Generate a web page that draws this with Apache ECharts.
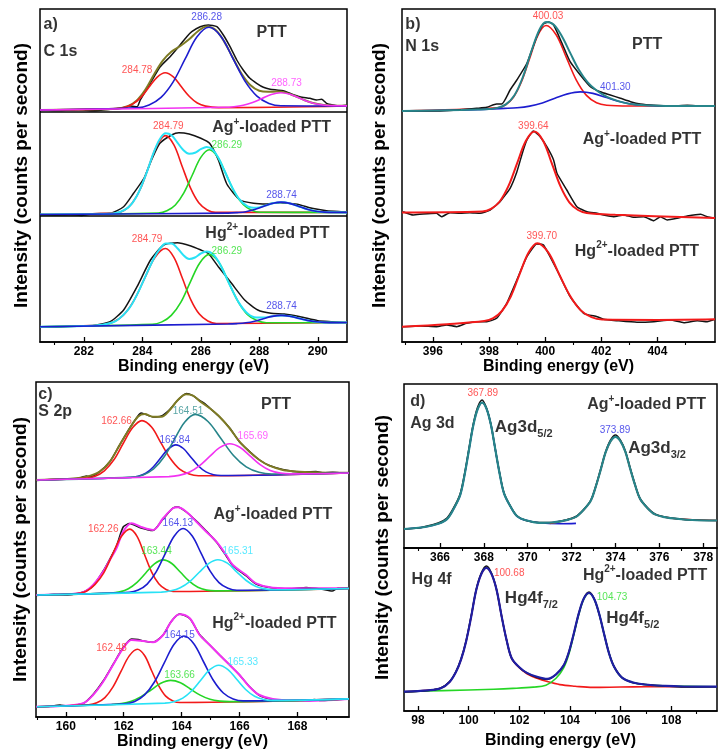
<!DOCTYPE html>
<html><head><meta charset="utf-8">
<script src="https://cdn.jsdelivr.net/npm/echarts@6/dist/echarts.min.js"></script>
<style>html,body{margin:0;padding:0;background:#fff}#c{width:724px;height:755px}</style>
</head><body><div id="c"></div>
<script>
// ---------- axis ranges & ticks ----------
const xRanges = [[280.5,291],[394.9,406.05],[158.97,169.78],[364.36,378.63],[97.45,109.8]];
const yTops = [333,333,335,164,163];
const majorTicks = [[282,284,286,288,290],[396,398,400,402,404],[160,162,164,166,168],[366,368,370,372,374,376,378],[98,100,102,104,106,108]];
const minorTicks = [[281,283,285,287,289],[395,397,399,401,403,405],[159,161,163,165,167,169],[365,367,369,371,373,375,377],[99,101,103,105,107,109]];
const separatorsA = [230.5,126];

// ---------- panel a : C 1s ----------
const a1Raw = [[280.52,232],[281.2,231.5],[281.8,232.3],[282.33,231.3],[282.9,232.7],[283.36,234.3],[283.59,236],[283.82,235.3],[283.93,242],[284.27,258.7],[284.61,275.3],[284.95,285.3],[285.29,297],[285.52,305.3],[285.69,310.3],[285.98,315.3],[286.26,317],[286.55,315.3],[286.77,307],[287,295.3],[287.23,282],[287.45,272],[287.68,263.7],[287.91,258.7],[288.14,254.7],[288.37,252.7],[288.59,252],[288.82,251.3],[289.05,248.7],[289.39,245.3],[289.73,243.7],[289.96,242],[290.13,242.7],[290.3,238.7],[290.53,237],[290.75,236],[290.98,236.7]];
const a1Fit = [[280.5,232],[282,232.6],[283,233],[283.5,235.8],[283.8,241.3],[284.1,252.2],[284.4,267.5],[284.7,281.3],[285,290.4],[285.3,296],[285.6,302.7],[285.9,310.8],[286.2,315.6],[286.5,312.2],[286.8,300.4],[287.1,283.9],[287.4,268],[287.7,256.7],[288,251.2],[288.3,250.2],[288.6,250.4],[288.9,249.4],[289.2,246.2],[289.5,242.4],[289.8,239.2],[290.2,236.9],[290.6,236.2],[291,236.2]];
const a1Red = [[280.5,232],[283.1,233.4],[283.41,234.8],[283.68,238.1],[283.96,244.9],[284.23,255],[284.51,264.9],[284.78,269.2],[285.06,265.1],[285.33,255.4],[285.61,245.5],[285.88,239],[286.16,235.9],[286.6,234.4],[291,236]];
const a1Blue = [[280.5,232],[283.82,234.2],[284.23,237],[284.64,244.6],[285.05,259.9],[285.46,282.8],[285.87,305.2],[286.28,314.7],[286.69,305.5],[287.1,283.4],[287.51,260.9],[287.92,245.9],[288.33,238.6],[288.74,236.2],[291,236]];
const a1Mag = [[280.5,232],[286.81,234.7],[287.13,235.3],[287.45,236.7],[287.77,239.4],[288.09,243.5],[288.41,247.6],[288.73,249.3],[289.05,247.8],[289.37,244.1],[289.69,240.2],[290.01,237.7],[290.33,236.5],[290.65,236.3],[291,236.1]];

const a2Raw = [[280.5,127.5],[281,126.8],[281.5,127.3],[281.9,126.5],[282.3,128.3],[282.9,128.7],[283.36,135.3],[283.7,148.7],[284.06,164],[284.33,183],[284.6,198.7],[285,207],[285.25,209.3],[285.6,208],[286,203.7],[286.3,198.7],[286.6,182],[286.89,158],[287.34,142],[287.8,138.7],[288.25,138],[288.7,139.3],[289.3,137.7],[289.8,133.7],[290.3,131.3],[290.8,130.3],[291,130]];
const a2Fit = [[280.5,127.5],[282,127.8],[283,128.6],[283.5,134.1],[283.8,145.4],[284.1,165.7],[284.4,190.3],[284.6,203],[284.8,208.7],[285,206.7],[285.2,199.4],[285.4,192],[285.6,188.3],[285.8,189.2],[286,192.8],[286.2,195],[286.4,192.6],[286.6,184.2],[286.8,172],[287,159],[287.3,143.4],[287.6,135.7],[287.9,134.3],[288.2,136.4],[288.5,139],[288.8,139.8],[289.1,138.1],[289.4,135.1],[289.7,132.3],[290,130.6],[290.4,129.7],[291,129.6]];
const a2Red = [[280.5,127.5],[283.08,128.9],[283.37,131.5],[283.65,138.7],[283.94,153.5],[284.22,175.5],[284.51,197.1],[284.79,206.4],[285.08,197.2],[285.36,175.8],[285.65,153.8],[285.93,139.2],[286.22,132],[286.5,129.6],[291,129.6]];
const a2Green = [[280.5,127.5],[284.55,129],[284.84,131.2],[285.13,137],[285.42,149.1],[285.71,167],[286,184.6],[286.29,192.2],[286.58,184.7],[286.87,167.3],[287.16,149.4],[287.45,137.5],[287.74,131.7],[288.03,129.7],[291,129.6]];
const a2Blue = [[280.5,127.5],[286.94,128.9],[287.24,129.4],[287.54,130.3],[287.84,132.5],[288.14,135.6],[288.44,138.5],[288.74,139.9],[289.04,138.6],[289.34,135.7],[289.64,132.8],[289.94,130.8],[290.24,129.9],[290.54,129.6],[291,129.6]];

const a3Raw = [[280.5,15.3],[281,14.8],[281.5,15.5],[282,16],[282.3,16.3],[282.9,20.3],[283.36,32],[283.82,55.3],[284.28,82],[284.73,97],[285.2,99.3],[285.66,96],[286,92],[286.25,88.7],[286.6,75.3],[287.05,58.7],[287.5,42],[287.95,32],[288.4,28.7],[288.85,28],[289.4,25.3],[290,21.3],[290.5,20.3],[291,19.3]];
const a3Fit = [[280.5,15.3],[282,15.9],[283,19.7],[283.5,31.8],[283.8,46.3],[284.1,65.2],[284.4,84],[284.6,93.2],[284.8,98.6],[285,98.6],[285.2,93.8],[285.4,87],[285.6,83],[285.8,84.5],[286,88.5],[286.2,90.5],[286.4,88.3],[286.6,80.8],[286.8,69.3],[287,56.5],[287.3,39.4],[287.6,28.5],[287.9,24.5],[288.2,24.6],[288.5,26.1],[288.8,26.6],[289.1,25.4],[289.4,23.3],[289.7,21.2],[290,20],[290.4,19.5],[291,19.5]];
const a3Red = [[280.5,15.3],[282.63,17],[282.99,19.7],[283.35,26.8],[283.71,41.4],[284.07,63.1],[284.43,84.4],[284.79,93.5],[285.08,84.6],[285.37,63.7],[285.66,42.2],[285.95,27.9],[286.24,21],[286.53,18.5],[291,19.5]];
const a3Green = [[280.5,15.3],[284.34,17.6],[284.67,20.1],[284.99,26.6],[285.32,39.9],[285.64,59.9],[285.97,79.3],[286.29,87.6],[286.62,79.6],[286.94,60.4],[287.27,40.7],[287.59,27.6],[287.92,21.4],[288.24,19.2],[291,19.5]];
const a3Blue = [[280.5,15.3],[286.94,18],[287.24,18.4],[287.54,19.2],[287.84,20.8],[288.14,23.3],[288.44,25.6],[288.74,26.6],[289.04,25.8],[289.34,23.7],[289.64,21.6],[289.94,20.2],[290.24,19.6],[290.54,19.4],[291,19.5]];

// ---------- panel b : N 1s ----------
const b1Raw = [[394.94,231],[395.65,231],[396.13,231],[396.85,232],[397.56,233.7],[397.92,234.7],[398.27,238],[398.45,238],[398.75,252],[398.99,262],[399.35,278.7],[399.7,305.3],[399.94,318],[400.12,320],[400.3,317],[400.6,298.7],[400.89,280.3],[401.25,267],[401.61,255.3],[401.96,250.3],[402.32,247],[402.68,243.7],[403.04,240.3],[403.39,238],[403.87,236.7],[404.46,236],[405.06,236.7],[405.65,236],[406.05,236]];
const b1Fit = [[394.9,231],[396,231.5],[397,232],[397.6,232.5],[398,233],[398.3,234.1],[398.6,237.6],[398.9,246.5],[399.2,264.5],[399.5,290],[399.8,312.5],[400.03,320],[400.3,317.5],[400.6,305.5],[400.9,288.6],[401.2,272.2],[401.5,260.1],[401.8,252.2],[402.1,246.7],[402.4,242.9],[402.8,239.4],[403.2,237.4],[403.7,236.4],[404.3,236],[405,236],[406.05,236]];
const b1Red = [[394.9,231],[398.29,234.1],[398.58,237],[398.87,244.8],[399.16,260.5],[399.45,283.8],[399.74,306.7],[400.03,316.5],[400.39,307.2],[400.75,284.8],[401.11,261.9],[401.47,246.6],[401.83,239.3],[402.19,236.8],[403,236],[406.05,236]];
const b1Blue = [[394.9,231],[397,232],[398.55,233.6],[399,234.2],[399.45,235.9],[399.9,239.1],[400.35,243.7],[400.8,248.1],[401.25,250.1],[401.7,248.6],[402.15,244.7],[402.6,240.7],[403.05,238],[403.5,236.7],[403.95,236.2],[406.05,236]];
const b2Raw = [[394.94,130.3],[395.3,127],[395.65,128],[396.13,128.7],[396.31,125.3],[396.61,129.3],[396.96,128.7],[397.32,129.3],[397.68,128.7],[398.04,132],[398.39,140.3],[398.75,153.7],[398.99,170],[399.2,190],[399.35,202],[399.58,211],[399.82,205.3],[400.06,195.3],[400.3,182],[400.42,168.7],[400.77,152],[401.13,135.3],[401.49,130.3],[401.85,128.7],[402.08,127],[402.44,125.3],[402.8,127],[403.15,124.7],[403.51,125.3],[403.87,121.3],[404.11,125.3],[404.35,122],[404.7,123.7],[405.06,126],[405.54,127.7],[405.77,125.3],[406.05,123.7]];
const b2Red = [[394.9,129.5],[397.76,130.4],[398.07,133.1],[398.38,140.5],[398.69,155.8],[399,178.6],[399.31,201],[399.62,210.5],[399.93,201],[400.24,178.4],[400.55,155.3],[400.86,139.7],[401.17,132],[401.48,129],[402.5,127.2],[406.05,124]];
const b3Raw = [[394.94,15.3],[395.54,16],[396.13,15.3],[396.49,17],[396.85,15.3],[397.2,18.7],[397.56,20.3],[397.92,20.3],[398.27,23.7],[398.63,38.7],[398.99,62],[399.35,85.3],[399.7,98],[399.94,97],[400.42,72],[400.89,45.3],[401.37,28.7],[401.85,25.3],[402.08,22.7],[402.56,21.3],[403.27,19.7],[403.87,20.3],[404.46,22],[404.94,19.3],[405.42,21.3],[405.77,20.3],[406.05,22.7]];
const b3Red = [[394.9,15.3],[396.5,17.8],[397.83,20.9],[398.15,23.8],[398.46,31],[398.78,45.8],[399.09,67.9],[399.41,89.5],[399.72,98.8],[400.11,89.7],[400.49,68.3],[400.88,46.5],[401.26,31.9],[401.65,24.8],[402.03,22.4],[404,22.1],[406.05,22.7]];

// ---------- panel c : S 2p ----------
const c1Raw = [[158.97,236.5],[159.5,237.5],[160.02,238],[160.4,238.3],[160.71,241],[160.85,240],[161.17,245.3],[161.52,255.3],[161.86,272],[162.21,289],[162.49,301],[162.6,304],[162.72,303],[163.01,300],[163.3,301],[163.59,307.5],[163.87,317],[164.16,323.5],[164.39,321.3],[164.62,316.5],[164.8,313.5],[164.97,309],[165.31,300],[165.66,289],[166,275],[166.34,265.8],[166.69,257],[167.03,251.5],[167.49,247.5],[168.07,245],[168.64,245.5],[168.9,244],[169.22,244.8],[169.5,244],[169.76,244.3]];
const c1Fit = [[158.97,237],[160.02,238],[160.71,240.3],[161.17,245.3],[161.52,255.3],[161.86,272],[162.21,288.7],[162.49,300.3],[162.72,303],[163.01,300.3],[163.3,300.3],[163.59,307],[163.87,317],[164.16,322.7],[164.39,321.3],[164.62,316],[164.97,308.7],[165.31,300.3],[165.66,288.7],[166,275.3],[166.34,265.3],[166.69,257],[167.03,251.3],[167.49,247],[168.07,245.3],[168.64,244.7],[169.22,244.3],[169.76,244.3]];
const c1Red = [[159,237],[160.68,238.7],[161.01,240.8],[161.33,246.2],[161.66,257.2],[161.98,273.5],[162.31,289.4],[162.63,296.4],[162.96,289.9],[163.28,274.4],[163.61,258.5],[163.93,247.9],[164.26,242.9],[164.58,241.2],[169.78,244]];
const c1Blue = [[159,237],[162.24,239.5],[162.5,240.7],[162.76,243.7],[163.02,250],[163.28,259.2],[163.54,268.1],[163.8,272.1],[164.06,268.5],[164.32,259.8],[164.58,251],[164.84,245.1],[165.1,242.3],[165.36,241.5],[169.78,244]];
const c1Teal = [[159,237],[162.31,239.9],[162.67,242.1],[163.03,248],[163.39,260],[163.75,277.7],[164.11,295],[164.47,302.6],[164.91,295.5],[165.35,278.7],[165.79,261.5],[166.23,250.1],[166.67,244.7],[167.11,243],[169.78,244]];
const c1Mag = [[159,237],[163.56,240.4],[163.91,241.6],[164.26,244.7],[164.61,251.1],[164.96,260.3],[165.31,269.3],[165.66,273.3],[166.01,269.8],[166.36,261.2],[166.71,252.4],[167.06,246.5],[167.41,243.9],[167.76,243.1],[169.78,244]];

const c2Raw = [[158.97,121.5],[159.6,122.5],[160.02,122],[160.6,125],[160.94,131],[161.29,146],[161.52,158],[161.75,171],[161.98,190],[162.2,193.5],[162.6,189],[163.01,186.5],[163.36,198],[163.7,209],[163.87,210],[164.16,205],[164.51,196],[164.85,186],[165.2,175],[165.54,161],[165.77,151],[166.23,141],[166.57,133],[167.15,129],[167.8,128.3],[168.3,129.5],[168.8,128],[169.2,126],[169.4,129],[169.76,128.7]];
const c2Fit = [[158.97,122],[160.02,122.7],[160.6,124.7],[160.94,132],[161.29,145.3],[161.52,157],[161.75,168.7],[161.98,185.3],[162.27,193.7],[162.6,190],[163.01,187],[163.36,198.7],[163.7,208.7],[163.87,209.7],[164.16,205.3],[164.51,195.3],[164.85,185.3],[165.2,175.3],[165.54,162],[165.77,152],[166.23,142],[166.57,133.7],[167.15,129.3],[168.07,128.7],[169.76,128.7]];
const c2Red = [[159,122],[160.41,123.5],[160.71,125.8],[161.01,132.6],[161.31,144.2],[161.61,162.4],[161.91,180.2],[162.21,187.9],[162.46,180.6],[162.71,163],[162.96,145.2],[163.21,133.2],[163.46,127.5],[163.71,125.5],[169.78,128.5]];
const c2Green = [[159,122],[161.56,123.9],[161.86,125.1],[162.16,128.3],[162.46,134.7],[162.76,144],[163.06,153.1],[163.36,157.1],[163.66,153.5],[163.96,144.7],[164.26,135.8],[164.56,129.7],[164.86,126.9],[165.16,126.1],[169.78,128.5]];
const c2Blue = [[159,122],[162.19,124.6],[162.5,126.9],[162.81,132.9],[163.12,145.1],[163.43,163.2],[163.74,180.8],[164.05,188.5],[164.36,181.2],[164.67,163.9],[164.98,146.2],[165.29,134.4],[165.6,128.7],[165.91,126.8],[169.78,128.5]];
const c2Cyan = [[159,122],[163.3,124.9],[163.63,126.2],[163.95,129.3],[164.28,135.4],[164.6,144.5],[164.93,153.4],[165.25,157.3],[165.58,153.8],[165.9,145.2],[166.23,136.5],[166.55,130.8],[166.88,128.1],[167.2,127.2],[169.78,128.5]];

const c3Raw = [[158.97,10],[159.4,10.5],[159.8,12],[160.02,11],[160.6,13.5],[160.94,22.5],[161.29,36],[161.63,52.5],[161.98,69.5],[162.27,78],[162.5,77.5],[162.67,76],[163.01,74.7],[163.36,82],[163.64,95.5],[163.93,103],[164.28,98.5],[164.62,82.5],[164.97,72],[165.31,62],[165.66,52],[166,42],[166.34,30.5],[166.69,21.5],[167.15,17.5],[167.5,16.5],[168.07,16],[168.6,17.5],[168.8,16.5],[169.2,17],[169.76,18]];
const c3Fit = [[158.97,10.3],[160.02,11.3],[160.6,13.7],[160.94,22],[161.29,35.3],[161.63,52],[161.98,68.7],[162.27,77],[162.67,76],[163.01,74.7],[163.36,82],[163.64,95.3],[163.93,102.7],[164.28,98.7],[164.62,82],[164.97,72],[165.31,62],[165.66,52],[166,42],[166.34,30.3],[166.69,22],[167.15,18],[168.07,16],[169.76,18]];
const c3Red = [[159,10.3],[160.79,12.2],[161.07,14.2],[161.35,19.4],[161.63,30.1],[161.91,45.8],[162.19,61.1],[162.47,67.8],[162.72,61.5],[162.96,46.5],[163.21,31.2],[163.45,20.9],[163.7,16.1],[163.94,14.5],[169.78,18.1]];
const c3Green = [[159,10.3],[161.58,12.5],[161.92,13.4],[162.26,15.8],[162.6,20.4],[162.94,27],[163.28,33.7],[163.62,36.6],[163.96,34.2],[164.3,28],[164.64,21.9],[164.98,17.7],[165.32,15.9],[165.66,15.4],[169.78,18.1]];
const c3Blue = [[159,10.3],[162.04,13.2],[162.38,15.6],[162.72,22.1],[163.06,35],[163.4,54.1],[163.74,72.8],[164.08,81],[164.42,73.3],[164.76,55],[165.1,36.5],[165.44,24],[165.78,18.1],[166.12,16.1],[169.78,18.1]];
const c3Cyan = [[159,10.3],[163.42,13.9],[163.73,15.3],[164.04,18.9],[164.35,26.2],[164.66,36.8],[164.97,47.3],[165.28,51.8],[165.59,47.7],[165.9,37.7],[166.21,27.5],[166.52,20.7],[166.83,17.5],[167.14,16.6],[169.78,18.1]];

// ---------- panel d : Ag 3d / Hg 4f ----------
const d1Raw = [[364.36,19],[365,20],[365.32,21.5],[365.92,25],[366.32,30],[366.62,40],[366.92,54],[367.12,74],[367.32,99],[367.52,124],[367.72,141],[367.92,148],[368.12,140],[368.32,124],[368.52,99],[368.72,75],[368.92,55],[369.22,41.5],[369.52,32],[369.92,27.5],[370.52,25.5],[371.1,25.5],[371.75,28],[372.2,31.5],[372.55,38.5],[372.88,48],[373.1,61.5],[373.33,79],[373.55,96],[373.78,108],[374,113],[374.22,108],[374.45,97],[374.67,80],[374.9,63],[375.12,49.5],[375.45,40.5],[375.8,34],[376.25,31],[376.9,29],[377.5,28],[378.63,27.5]];
const d1Fit = [[364.36,19],[365.32,21],[365.92,24.2],[366.32,28.9],[366.62,39],[366.92,52.8],[367.12,72.8],[367.32,97.8],[367.52,122.7],[367.72,139],[367.92,145.4],[368.12,139.4],[368.32,123.5],[368.52,98.9],[368.72,74.3],[368.92,54.6],[369.22,41.3],[369.52,31.7],[369.92,27.7],[370.52,25.2],[371.1,25.5],[371.75,27.9],[372.2,31.1],[372.55,38.1],[372.88,47.5],[373.1,61.2],[373.33,78.4],[373.55,95.6],[373.78,106.8],[374,111.2],[374.22,107.2],[374.45,96.3],[374.67,79.4],[374.9,62.6],[375.12,49.2],[375.45,40.1],[375.8,33.6],[376.25,30.9],[376.9,29],[377.5,28],[378.63,27.5]];
const d1Blue = [[364.36,19],[365.32,21],[365.92,24.2],[366.32,28.9],[366.62,39],[366.92,52.8],[367.12,72.8],[367.32,97.8],[367.52,122.7],[367.72,139],[367.92,145.4],[368.12,139.4],[368.32,123.5],[368.52,98.9],[368.72,74.3],[368.92,54.6],[369.22,41.3],[369.52,31.7],[369.92,27.7],[370.52,25.2],[371.5,24.3],[372.2,24.6]];
const d1Red = [[371,24.5],[371.75,27.9],[372.2,31.1],[372.55,38.1],[372.88,47.5],[373.1,61.2],[373.33,78.4],[373.55,95.6],[373.78,106.8],[374,111.2],[374.22,107.2],[374.45,96.3],[374.67,79.4],[374.9,62.6],[375.12,49.2],[375.45,40.1],[375.8,33.6],[376.25,30.9],[376.9,29],[377.5,28.3],[378.63,27.5]];
const d2Raw = [[97.45,19],[98.4,20.5],[98.9,23],[99.25,29.5],[99.5,39.5],[99.7,52],[99.9,70],[100.1,95],[100.3,121.5],[100.5,138],[100.7,145],[100.9,138],[101.1,121.5],[101.3,95],[101.5,70.5],[101.7,52.5],[102,43.5],[102.3,38],[102.7,33.5],[103.1,31.5],[103.45,36.5],[103.75,45.5],[103.95,58.5],[104.15,77.5],[104.35,98],[104.55,113],[104.75,119],[104.95,112.5],[105.15,97],[105.35,76.5],[105.55,57],[105.75,44],[106.05,33.5],[106.45,28.5],[106.95,26.5],[107.75,25],[108.5,24],[109.8,24.3]];
const d2Fit = [[97.45,19.3],[98.4,20.6],[98.9,22.7],[99.25,29.1],[99.5,39],[99.7,51.3],[99.9,69.6],[100.1,94.1],[100.3,120.9],[100.5,136.9],[100.7,143.1],[100.9,137.1],[101.1,121.5],[101.3,94.9],[101.5,70.7],[101.7,52.7],[102,43.7],[102.3,38.1],[102.7,34.2],[103.1,32.1],[103.45,36.7],[103.75,45.7],[103.95,58.5],[104.15,77.5],[104.35,97.9],[104.55,112.7],[104.75,118],[104.95,112.2],[105.15,97.2],[105.35,76.5],[105.55,56.8],[105.75,43.7],[106.05,33.4],[106.45,28.8],[106.95,26.5],[107.75,25.1],[108.5,24.5],[109.8,24.3]];
const d2Red = [[97.45,19.3],[98.4,20.6],[98.9,22.7],[99.25,29.1],[99.5,39],[99.7,51.3],[99.9,69.6],[100.1,94.1],[100.3,120.9],[100.5,136.9],[100.7,143.1],[100.9,137.1],[101.1,121.5],[101.3,94.9],[101.5,70.7],[101.7,52.7],[102,43.2],[102.3,37.3],[102.7,32.7],[103.1,29.4],[103.6,26.4],[104.2,24.8],[104.9,23.6],[106,24],[107,24.2],[109.8,24.3]];
const d2Green = [[97.45,19.3],[99,20.4],[101,21.8],[101.75,22.6],[102.55,23.9],[103.05,25.7],[103.45,32.7],[103.75,43.1],[103.95,56.4],[104.15,76.2],[104.35,96.9],[104.55,112.1],[104.75,117.7],[104.95,112.2],[105.15,97.2],[105.35,76.5],[105.55,56.8],[105.75,43.7],[106.05,33.4],[106.45,28.8],[106.95,26.5],[107.75,25.1],[109.8,24.3]];

// ---------- text annotations [x, y, text, kind, colour] ----------
const textsA = [
 [280.62,317,'a)','tag'],[280.62,290,'C 1s','tag'],
 [288.42,309,'{b|PTT}','name'],[288.42,214,'{b|Ag}{sup|+}{b|-loaded PTT}','name'],[288.28,108.7,'{b|Hg}{sup|2+}{b|-loaded PTT}','name'],
 [286.2,324.7,'286.28','peak','blue'],[283.82,272,'284.78','peak','red'],[288.93,258.7,'288.73','peak','magenta'],
 [284.89,215.3,'284.79','peak','red'],[286.89,196.3,'286.29','peak','green'],[288.76,147,'288.74','peak','blue'],
 [284.16,102.7,'284.79','peak','red'],[286.89,91,'286.29','peak','green'],[288.76,35.3,'288.74','peak','blue']
];
const textsB = [
 [395.02,317,'b)','tag'],[395.02,295.3,'N 1s','tag'],
 [403.63,297,'{b|PTT}','name'],[403.45,202,'{b|Ag}{sup|+}{b|-loaded PTT}','name'],[403.27,90.3,'{b|Hg}{sup|2+}{b|-loaded PTT}','name'],
 [400.1,325.3,'400.03','peak','red'],[402.5,254.7,'401.30','peak','blue'],[399.58,216,'399.64','peak','red'],[399.88,106,'399.70','peak','red']
];
const textsC = [
 [159.05,322.5,'c)','tag'],[159.05,305,'S 2p','tag'],
 [167.26,312,'{b|PTT}','name'],[167.15,202,'{b|Ag}{sup|+}{b|-loaded PTT}','name'],[167.2,93.7,'{b|Hg}{sup|2+}{b|-loaded PTT}','name'],
 [161.75,295.3,'162.66','peak','red'],[164.22,306,'164.51','peak','teal'],[163.76,276.3,'163.84','peak','blue'],[166.46,281,'165.69','peak','magenta'],
 [161.29,188,'162.26','peak','red'],[163.87,193.7,'164.13','peak','blue'],[163.13,165.3,'163.44','peak','green'],[165.94,165.3,'165.31','peak','cyan'],
 [161.58,68.7,'162.48','peak','red'],[163.93,82,'164.15','peak','blue'],[163.93,42,'163.66','peak','green'],[166.11,54.7,'165.33','peak','cyan']
];
const textsD1 = [
 [364.64,146.3,'d)','tag'],[364.64,124.7,'Ag 3d','tag'],
 [368.5,121,'{m|Ag3d}{sub|5/2}','orb'],[374.58,99.3,'{m|Ag3d}{sub|3/2}','orb'],
 [375.42,143,'{b|Ag}{sup|+}{b|-loaded PTT}','name'],
 [367.95,154.7,'367.89','peak','red'],[373.98,117.3,'373.89','peak','blue']
];
const textsD2 = [
 [97.75,131,'Hg 4f','tag'],
 [101.43,112.3,'{m|Hg4f}{sub|7/2}','orb'],[105.43,92.3,'{m|Hg4f}{sub|5/2}','orb'],
 [106.96,135.3,'{b|Hg}{sup|2+}{b|-loaded PTT}','name'],
 [101.6,137.7,'100.68','peak','red'],[105.66,113.7,'104.73','peak','green']
];

// ---------- build ----------
const FONT = "'Liberation Sans', Arial, Helvetica, sans-serif";
const COL = {black:'#141414', red:'#f21a1a', blue:'#1d1dcf', magenta:'#f232f2', olive:'#7e7b24', green:'#25d625', cyan:'#28e2f6', teal:'#27858a', navy:'#1f1fa4'};
const TXT = {red:'#ff2a2a', blue:'#2a2ae6', magenta:'#ff3cff', green:'#2ee02e', cyan:'#2ee4ff', teal:'#2f8f8f'};

const gridRects = [
 {left:40, top:9, width:307, height:333},
 {left:402, top:9, width:313, height:333},
 {left:36, top:382, width:313, height:335},
 {left:404, top:384, width:313, height:164},
 {left:404, top:548, width:313, height:163},
 {left:404, top:384, width:313, height:327}
];
const grid = gridRects.map((r,i)=>Object.assign({show:i<5, borderColor:'#000', borderWidth:1.5, backgroundColor:'transparent'}, r));

const xNameGap = [16,16,16,0,22];
const xAxis = [];
for (let i=0;i<5;i++) {
  xAxis.push({type:'value', gridIndex:i, min:xRanges[i][0], max:xRanges[i][1],
    axisLine:{show:true, onZero:false, lineStyle:{color:'#000', width:1.5}},
    axisTick:{show:true, inside:true, length:5, customValues:majorTicks[i], lineStyle:{color:'#000', width:1.3}},
    axisLabel:{show:true, customValues:majorTicks[i], margin:4, fontSize:12, fontWeight:'bold', color:'#000', fontFamily:FONT},
    splitLine:{show:false},
    name: i===3 ? '' : 'Binding energy (eV)', nameLocation:'middle', nameGap:xNameGap[i],
    nameTextStyle:{fontSize:16, fontWeight:'bold', color:'#000', fontFamily:FONT}});
}
for (let i=0;i<5;i++) {
  xAxis.push({type:'value', gridIndex:i, min:xRanges[i][0], max:xRanges[i][1],
    axisLine:{show:false}, axisLabel:{show:false}, splitLine:{show:false},
    axisTick:{show:true, inside:true, length:3, customValues:minorTicks[i], lineStyle:{color:'#000', width:1.1}}});
}
xAxis.push({type:'value', gridIndex:5, min:0, max:1, show:false});

const yName = 'Intensity (counts per second)';
const yGap = [9,13,6,0,0];
const yAxis = [];
for (let i=0;i<5;i++) {
  yAxis.push({type:'value', gridIndex:i, min:0, max:yTops[i], axisLine:{show:false}, axisTick:{show:false}, axisLabel:{show:false}, splitLine:{show:false},
    name: i<3 ? yName : '', nameLocation:'middle', nameRotate:90, nameGap:yGap[i],
    nameTextStyle:{fontSize:19, fontWeight:'bold', color:'#000', fontFamily:FONT}});
}
yAxis.push({type:'value', gridIndex:5, min:0, max:1, axisLine:{show:false}, axisTick:{show:false}, axisLabel:{show:false}, splitLine:{show:false},
  name:yName, nameLocation:'middle', nameRotate:90, nameGap:12,
  nameTextStyle:{fontSize:19, fontWeight:'bold', color:'#000', fontFamily:FONT}});

const series = [];
function ln(gi, data, color, width, smooth) {
  const s = {type:'line', xAxisIndex:gi, yAxisIndex:gi, data:data, showSymbol:false, symbol:'none',
    smooth: smooth===undefined ? 0.35 : smooth, lineStyle:{color:color, width:width}, silent:true};
  series.push(s); return s;
}
// panel a
const sepHost = ln(0, a1Raw, COL.black, 1.5, 0.2);
sepHost.markLine = {silent:true, symbol:['none','none'], label:{show:false}, animation:false,
  lineStyle:{color:'#000', width:1.5, type:'solid'}, data: separatorsA.map(v=>({yAxis:v}))};
ln(0, a1Fit, COL.olive, 2);
ln(0, a1Red, COL.red, 1.6); ln(0, a1Blue, COL.blue, 1.6); ln(0, a1Mag, COL.magenta, 1.6);
ln(0, a2Raw, COL.black, 1.5, 0.2); ln(0, a2Red, COL.red, 1.6); ln(0, a2Green, COL.green, 1.6); ln(0, a2Fit, COL.cyan, 2); ln(0, a2Blue, COL.blue, 1.6);
ln(0, a3Raw, COL.black, 1.5, 0.2); ln(0, a3Red, COL.red, 1.6); ln(0, a3Green, COL.green, 1.6); ln(0, a3Fit, COL.cyan, 2); ln(0, a3Blue, COL.blue, 1.6);
// panel b
ln(1, b1Red, COL.red, 1.6); ln(1, b1Blue, COL.blue, 1.6); ln(1, b1Raw, COL.black, 1.5, 0.2); ln(1, b1Fit, COL.teal, 2);
ln(1, b2Raw, COL.black, 1.5, 0.15); ln(1, b2Red, COL.red, 2);
ln(1, b3Raw, COL.black, 1.5, 0.15); ln(1, b3Red, COL.red, 2);
// panel c
ln(2, c1Raw, COL.black, 1.5, 0.2); ln(2, c1Fit, COL.olive, 2);
ln(2, c1Red, COL.red, 1.6); ln(2, c1Blue, COL.blue, 1.6); ln(2, c1Teal, COL.teal, 1.6); ln(2, c1Mag, COL.magenta, 1.6);
ln(2, c2Raw, COL.black, 1.5, 0.2); ln(2, c2Fit, COL.magenta, 2);
ln(2, c2Red, COL.red, 1.6); ln(2, c2Green, COL.green, 1.6); ln(2, c2Blue, COL.blue, 1.6); ln(2, c2Cyan, COL.cyan, 1.6);
ln(2, c3Raw, COL.black, 1.5, 0.2); ln(2, c3Fit, COL.magenta, 2);
ln(2, c3Red, COL.red, 1.6); ln(2, c3Green, COL.green, 1.6); ln(2, c3Blue, COL.blue, 1.6); ln(2, c3Cyan, COL.cyan, 1.6);
// panel d
ln(3, d1Blue, COL.blue, 1.6); ln(3, d1Red, COL.red, 1.6); ln(3, d1Raw, COL.black, 1.6, 0.3); ln(3, d1Fit, COL.teal, 2.2);
ln(4, d2Red, COL.red, 1.6); ln(4, d2Green, COL.green, 1.6); ln(4, d2Raw, COL.black, 1.6, 0.3); ln(4, d2Fit, COL.navy, 2.2);

const rich = {
  b:{fontSize:16, fontWeight:'bold', color:'#000', fontFamily:FONT, lineHeight:22},
  sup:{fontSize:10, fontWeight:'bold', color:'#000', fontFamily:FONT, lineHeight:11, verticalAlign:'top'},
  m:{fontSize:17, fontWeight:'bold', color:'#000', fontFamily:FONT, lineHeight:24},
  sub:{fontSize:11, fontWeight:'bold', color:'#000', fontFamily:FONT, lineHeight:11, verticalAlign:'bottom'}
};
function labels(gi, list) {
  series.push({type:'scatter', xAxisIndex:gi, yAxisIndex:gi, symbol:'circle', symbolSize:1, silent:true,
    itemStyle:{color:'rgba(0,0,0,0)'}, z:10,
    data: list.map(t=>{
      const kind = t[3];
      let lab;
      if (kind==='peak') lab = {fontSize:10, color:TXT[t[4]], fontFamily:FONT, align:'center'};
      else if (kind==='tag') lab = {fontSize:16, fontWeight:'bold', color:'#000', fontFamily:FONT, align:'left'};
      else if (kind==='orb') lab = {align:'left', rich:rich};
      else lab = {align:'center', rich:rich};
      return {value:[t[0], t[1]], txt:t[2], label:Object.assign({show:true, position:'inside', verticalAlign:'middle', formatter:p=>p.data.txt}, lab)};
    })});
}
labels(0, textsA); labels(1, textsB); labels(2, textsC); labels(3, textsD1); labels(4, textsD2);

const chart = echarts.init(document.getElementById('c'), null, {renderer:'canvas'});
chart.setOption({animation:false, backgroundColor:'#fff', grid:grid, xAxis:xAxis, yAxis:yAxis, series:series});
</script></body></html>
